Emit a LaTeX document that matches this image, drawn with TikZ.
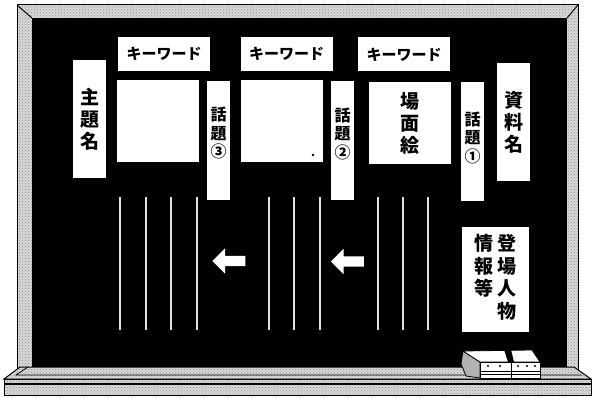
\documentclass[tikz,border=0pt]{standalone}
\usepackage{fontspec}
\newfontfamily\jpfont{Noto Sans CJK JP}
\usetikzlibrary{positioning,shapes.arrows,patterns}
\tikzset{
  card/.style={fill=white, inner sep=0pt, align=center, font=\jpfont\bfseries\fontsize{19}{22}\selectfont},
  kwcard/.style={card, minimum width=92pt, minimum height=34pt, font=\jpfont\bfseries\fontsize{15}{16}\selectfont},
  titlecard/.style={card, minimum width=33pt, minimum height=118pt},
  piccard/.style={card, minimum width=82pt, minimum height=82pt},
  topicstrip/.style={fill=white, inner sep=0pt, minimum width=23pt, minimum height=119pt},
  topiclabel/.style={inner sep=0pt, align=center, font=\jpfont\bfseries\fontsize{16}{18.5}\selectfont},
  castcard/.style={card, minimum width=67pt, minimum height=105pt, font=\jpfont\bfseries\fontsize{19}{21}\selectfont},
  chalk/.style={draw=white!88!black, line width=1.6pt},
  backarrow/.style={single arrow, fill=white, shape border rotate=180, minimum height=33pt, minimum width=25pt, inner sep=5pt, single arrow head extend=7.5pt},
  wood/.style={fill=black!15, postaction={pattern=crosshatch dots, pattern color=black!45}},
  woodline/.style={draw=black, line width=1pt},
}

\begin{document}
\begin{tikzpicture}[x=1pt, y=-1pt]
  \useasboundingbox (0,0) rectangle (592,398);

  % frame and board
  \path[wood] (17,5) rectangle (578,370);
  \draw[woodline] (17,370) -- (17,5) -- (578,5) -- (578,370);
  \fill[black] (32,18) rectangle (567,368);
  \draw[woodline] (17,5) -- (32,18) (578,5) -- (567,18);

  % chalk tray
  \path[wood] (20,367) -- (574,367) -- (591,379) -- (4,379) -- cycle;
  \draw[woodline] (20,367) -- (574,367) -- (591,379) -- (4,379) -- cycle;
  \draw[woodline, line width=0.7pt] (28,367) -- (16,375) -- (582,375);
  \path[wood] (4,379) rectangle (591,395);
  \draw[woodline] (4,379) rectangle (591,395);
  \draw[woodline, line width=1.4pt] (4,384) -- (591,384);

  % cards
  \node[kwcard] (kw3) at (164,54) {キーワード};
  \node[kwcard] (kw2) at (286.5,54) {キーワード};
  \node[kwcard] (kw1) at (404,54.5) {キーワード};
  \node[titlecard] (theme) at (89.5,119) {主\\題\\名};
  \node[titlecard] (source) at (513.5,122) {資\\料\\名};
  \node[piccard] (pic3) at (158,121) {};
  \node[piccard] (pic2) at (281.5,121) {};
  \node[piccard] (scene) at (409.5,123) {場\\面\\絵};
  \fill (313,155) circle (1.3);

  % topic strips
  \node[topicstrip] (t3) at (218.5,140.5) {};
  \node[topicstrip] (t2) at (342.5,141) {};
  \node[topicstrip] (t1) at (472.5,142) {};
  \node[topiclabel, below=26pt of t3.north] (t3text) {話\\題\\③};
  \node[topiclabel, below=26pt of t2.north] (t2text) {話\\題\\②};
  \node[topiclabel, below=29pt of t1.north] (t1text) {話\\題\\①};

  \node[castcard] (cast) at (495.5,279.5)
    {\begin{tabular}{@{}c@{\hspace{4pt}}c@{}}
       情 & 登\\ 報 & 場\\ 等 & 人\\ & 物
     \end{tabular}};

  % chalk lines and arrows
  \foreach \x in {120,146,171,197,269,294,320,378,403,428}
    \draw[chalk] (\x,197) -- (\x,330);
  \node[backarrow] (arrowL) at (231.5,261) {};
  \node[backarrow] (arrowR) at (350,261.5) {};

  % eraser
  \filldraw[fill=black!30, draw=black, line width=0.8pt]
    (463,351) -- (480,362) -- (480,378) -- (466,376) -- (461,364) -- cycle;
  \filldraw[fill=white, draw=black, line width=0.8pt]
    (463,351) -- (532,350) -- (540,362) -- (480,362) -- cycle;
  \filldraw[fill=white, draw=black, line width=0.8pt] (480,362) rectangle (540,378);
  \fill[black] (504,349.5) -- (511,349.5) -- (514,362) -- (508,362) -- cycle;
  \draw[line width=1pt] (511,362) -- (511,378);
  \draw[line width=0.8pt] (480,371) -- (540,371) (480,374.5) -- (540,374.5);
  \foreach \x in {488,500,518,527,535}
    \fill (\x,366) circle (1.2);
\end{tikzpicture}
\end{document}
